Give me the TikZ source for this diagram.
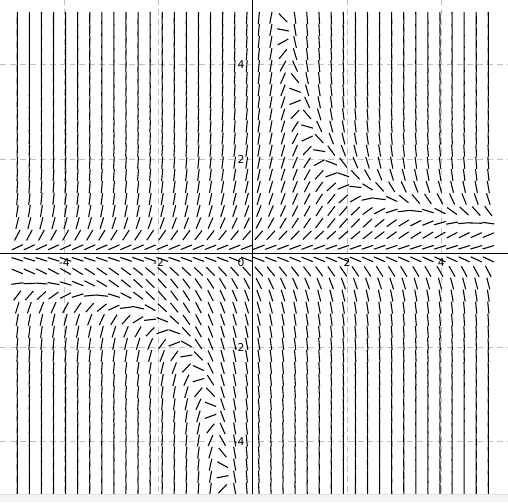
\documentclass[tikz,border=0pt]{standalone}
\usepackage{fontspec}
\setmainfont{DejaVu Sans}
\begin{document}
\begin{tikzpicture}[x=1cm,y=1cm,
  seg/.style={line width=0.65pt, black, line cap=butt},
  gridline/.style={gray!50, line width=0.5pt, dash pattern=on 3.6pt off 2.4pt},
  axisline/.style={black, line width=0.85pt},
  tlabel/.style={font=\fontsize{6.5}{7}\selectfont, inner sep=0.8pt}]
\useasboundingbox (-5.367,-5.280) rectangle (5.418,5.378);
\fill[white] (-5.367,-5.280) rectangle (5.418,5.378);
% dashed grid
\foreach \v in {-4,-2,2,4} {
  \draw[gridline] (\v,-5.28) -- (\v,5.378);
  \draw[gridline] (-5.367,\v) -- (5.418,\v);
}
% slope field  y' = y(3 - x y)
\foreach \i in {0,...,39} {
  \foreach \j in {0,...,39} {
    \pgfmathsetmacro\xx{-5+\i*10/39}
    \pgfmathsetmacro\yy{-5+\j*10/39}
    \pgfmathsetmacro\aa{atan(\yy*(3-\xx*\yy))}
    \draw[seg] (\xx,\yy) +(\aa+180:0.128) -- +(\aa:0.128);
  }
}
% axes
\draw[axisline] (-5.367,0) -- (5.418,0);
\draw[axisline] (0,-5.28) -- (0,5.378);
% labels
\node[tlabel, anchor=north] (lxm4) at (-4,-0.08) {-4};
\node[tlabel, anchor=north] (lxm2) at (-2,-0.08) {-2};
\node[tlabel, anchor=north] (lx0) at (-0.25,-0.08) {0};
\node[tlabel, anchor=north] (lx2) at (2,-0.08) {2};
\node[tlabel, anchor=north] (lx4) at (4,-0.08) {4};
\node[tlabel, anchor=east] (ly4) at (-0.14,4) {4};
\node[tlabel, anchor=east] (ly2) at (-0.14,2) {2};
\node[tlabel, anchor=east] (lym2) at (-0.14,-2) {-2};
\node[tlabel, anchor=east] (lym4) at (-0.14,-4) {-4};
% bottom strip
\fill[gray!8] (-5.367,-5.280) rectangle (5.418,-5.11);
\draw[gray!25, line width=0.4pt] (-5.367,-5.11) -- (5.418,-5.11);
\end{tikzpicture}
\end{document}
